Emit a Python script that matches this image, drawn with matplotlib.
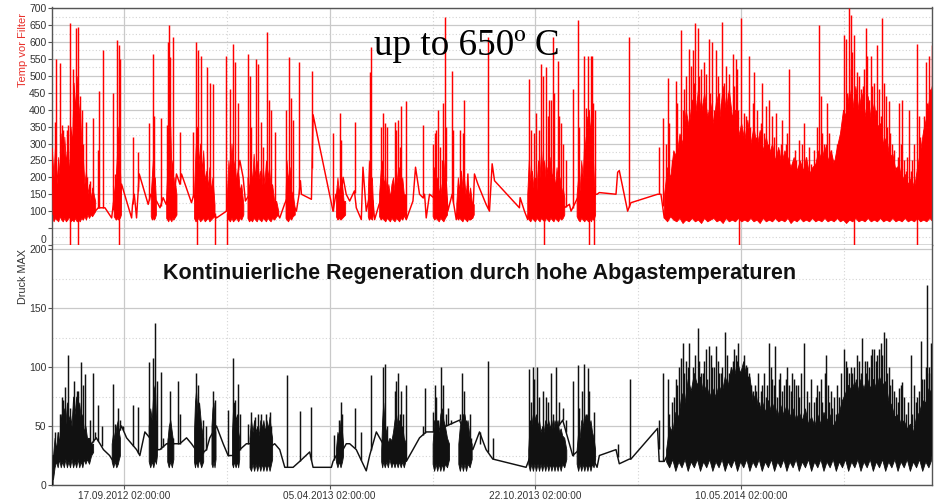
import numpy as np
import matplotlib
matplotlib.use('Agg')
import matplotlib.pyplot as plt
import matplotlib.dates as mdates
from matplotlib.ticker import FixedLocator

# ---------------- data (day offsets from 09.07.2012 02:00) ----------------
START = np.datetime64('2012-07-09T02:00')
x_ticks = ['2012-09-17T02:00', '2013-04-05T02:00', '2013-10-22T02:00', '2014-05-10T02:00']
x_minor = ['2012-12-26T02:00', '2013-07-14T02:00', '2014-01-30T02:00', '2014-08-18T02:00']
x_range_days = (0, 855.5)

# ---- Temp vor Filter ----
temp_trace = [(0, 285), (1.3, 90), (5, 150), (10, 100), (14, 160), (18, 90), (22, 140), (26, 100),
              (30, 150), (34, 120), (37, 160), (40, 110), (42, 100), (45, 110), (48, 110), (51.5, 110),
              (58, 80), (60, 130), (62, 90), (64, 200), (66, 110), (67.6, 180), (77.4, 80), (78.3, 120),
              (80, 150), (82.2, 80), (84.8, 210), (93.5, 120), (96, 150), (99.4, 130), (101.6, 130),
              (105, 110), (108, 140), (111, 120), (114, 160), (118, 120), (121, 210), (124.3, 180),
              (125.9, 210), (135.6, 125), (138, 150), (142, 100), (146, 150), (150, 120), (154, 100),
              (158, 90), (159.9, 80), (169.6, 100), (172, 150), (176, 120), (180, 200), (182.6, 250),
              (185.8, 200), (188, 130), (192, 150), (196, 120), (200, 140), (205, 130), (210, 150),
              (214, 120), (218.2, 100), (221.4, 80), (226, 120), (230, 150), (234, 120), (237.6, 100),
              (240.2, 150), (241.5, 190), (242.5, 150), (252.2, 135), (253.8, 385), (273.2, 100),
              (276, 150), (280, 120), (283, 200), (286, 150), (289.4, 130), (294, 160), (295.8, 110),
              (300.7, 75), (302.3, 230), (305.5, 100), (309, 150), (312, 130), (313.6, 75), (318, 120),
              (322, 150), (326, 110), (328.2, 140), (333, 120), (337, 150), (341.1, 100), (344.4, 75),
              (350.9, 130), (353.4, 230), (357.3, 150), (360.6, 140), (362.2, 150), (363.8, 80),
              (367, 150), (371, 140), (375, 160), (379, 120), (383, 200), (384.8, 100), (389, 150),
              (393, 75), (396, 150), (400, 160), (402.7, 100), (404.3, 210), (405.9, 75), (409.1, 80),
              (410.7, 210), (414, 180), (422, 120), (425.3, 100), (427.9, 240), (430.2, 190),
              (454.4, 110), (455.1, 140), (459.3, 100), (462.5, 75), (466, 150), (470, 120), (472.2, 80),
              (476, 150), (480, 130), (484, 160), (488, 130), (490.1, 120), (494, 150), (498, 110),
              (503, 120), (504.6, 100), (507.9, 120), (511, 140), (514.3, 130), (517, 110), (519.8, 75),
              (522, 150), (525.7, 130), (528.2, 150), (529.9, 150), (532.1, 155), (548.3, 150),
              (549.9, 215), (551.5, 220), (559.6, 100), (562.8, 125), (588.7, 150), (592, 150),
              (595.2, 80), (597, 100)]

temp_spikes = [(2.9, 365), (3.9, 550), (7.8, 538), (9.4, 355), (11, 340), (14.2, 340), (15.9, 355),
               (17.5, 655), (20.7, 520), (23.3, 640), (24.9, 645), (27.2, 440), (28.8, 400), (30.4, 300),
               (32.7, 365), (34.3, 200), (36.9, 190), (39.5, 375), (45, 280), (45.6, 455), (49.2, 575),
               (58.9, 450), (61.2, 210), (63.4, 605), (64.7, 590), (66, 550), (78.3, 320), (83.8, 275),
               (94.5, 360), (98.4, 565), (99.4, 380), (105.5, 375), (111.4, 355), (113, 600), (114, 650),
               (115.2, 555), (117.8, 615), (124.3, 335), (137.2, 335), (139.8, 600), (142.1, 575),
               (145.3, 560), (150.2, 525), (153.4, 480), (156.7, 475), (169.6, 560), (172.9, 460),
               (176.1, 595), (177.7, 540), (181, 420), (182.6, 250), (190.7, 565), (192.3, 500),
               (193.9, 350), (198.1, 550), (200.4, 535), (203, 365), (205.2, 290), (209.4, 630),
               (211, 430), (213.3, 400), (216.5, 335), (227.9, 400), (230.5, 555), (232.7, 435),
               (234.4, 370), (240.2, 540), (252.8, 515), (273.2, 330), (279.6, 390), (281.3, 310),
               (294.2, 365), (302.3, 230), (308.8, 510), (310.4, 585), (320.1, 350), (321.7, 390),
               (323.3, 360), (325.6, 350), (333, 365), (334.7, 340), (336.3, 370), (337.9, 290),
               (339.5, 410), (343.7, 425), (353.4, 230), (360.6, 355), (370.3, 300), (371.9, 330),
               (373.5, 340), (375.1, 400), (376.8, 290), (379.3, 250), (380.6, 420), (381.6, 675),
               (383.2, 350), (389.1, 515), (390.3, 340), (396.2, 340), (399.4, 330), (401, 430),
               (423.7, 615), (427.9, 240), (464.2, 490), (465.8, 340), (469, 330), (470.6, 390),
               (473.9, 340), (475.5, 535), (477.1, 500), (480.3, 525), (482, 380), (483.6, 430),
               (485.2, 430), (486.8, 615), (488.4, 450), (491.7, 545), (493.3, 380), (494.9, 360),
               (496.5, 300), (499.8, 250), (506.2, 460), (511.1, 665), (512.7, 350), (517.6, 560),
               (519.2, 405), (520.8, 560), (524, 560), (525, 560), (525.7, 420), (528.2, 400),
               (549.9, 215), (561.2, 615), (589.7, 290), (593.6, 375), (598.4, 495)]

temp_dense_spikes = [(606.5, 485), (611.4, 635), (613, 400), (616.2, 500), (619.5, 580), (621.1, 530),
                     (622.7, 575), (625.3, 655), (627.6, 640), (630.8, 520), (634, 540), (635.7, 505),
                     (638.9, 610), (642.1, 600), (645.4, 575), (648.6, 450), (651.8, 660), (655.1, 530),
                     (658.3, 505), (661.6, 565), (664.8, 550), (666.4, 520), (669.6, 670), (672.9, 390),
                     (674.5, 380), (677.7, 560), (681, 420), (682.6, 510), (685.8, 400), (689.1, 360),
                     (690.7, 480), (693.9, 410), (697.2, 430), (700.4, 380), (703.6, 390), (706.9, 280),
                     (710.1, 370), (713.4, 300), (716.6, 520), (719.8, 240), (723.1, 250), (726.3, 310),
                     (731.2, 360), (736, 290), (739.2, 200), (742.5, 240), (745.7, 650), (747.3, 440),
                     (750.6, 300), (753.8, 420), (755.4, 330), (758.7, 240), (761.9, 200), (765.1, 200),
                     (768.4, 350), (770, 620), (771.6, 610), (774.9, 700), (776.5, 680), (778.1, 570),
                     (779.7, 620), (783, 510), (786.2, 460), (789.4, 520), (791, 640), (792.7, 560),
                     (795.9, 560), (799.1, 480), (802.4, 590), (804, 460), (807.2, 670), (808.8, 480),
                     (810.5, 440), (813.7, 425), (817, 300), (820.2, 230), (823.4, 420), (826.6, 430),
                     (829.9, 220), (833.1, 400), (836.4, 250), (840.6, 595), (842.8, 380), (846.1, 250),
                     (849.3, 540), (852.5, 560), (855.8, 590),
                     (597, 300), (600, 360), (603, 250), (608, 420), (614, 460), (618, 350), (624, 480),
                     (629, 500), (633, 420), (637, 380), (640, 450), (644, 400), (647, 500), (650, 420),
                     (653, 480), (657, 450), (660, 380), (663, 470), (667, 400), (671, 330), (676, 300),
                     (679, 350), (684, 320), (688, 290), (692, 330), (696, 300), (699, 280), (702, 320),
                     (705, 260), (709, 300), (712, 250), (715, 330), (718, 220), (722, 280), (725, 230),
                     (729, 300), (733, 260), (738, 240), (741, 280), (744, 350), (749, 330), (752, 300),
                     (757, 280), (760, 250), (763, 300), (767, 330), (773, 450), (777, 520), (782, 450),
                     (785, 500), (788, 470), (794, 430), (797, 470), (801, 400), (806, 380), (812, 350),
                     (815, 330), (819, 280), (822, 260), (825, 300), (828, 250), (831, 260), (835, 220),
                     (838, 300), (844, 320), (848, 380), (851, 420), (854, 460), (857, 480)]

temp_drops = [17.5, 25.6, 65.4, 140.5, 158.3, 170.6, 478.7, 522.4, 527.3, 668, 779.7, 840.6]
temp_drop_top = 95

# dense bursts: (day, low, top)
temp_bursts = [
    [(0, 85, 280), (1.5, 70, 200), (3, 80, 300), (4.5, 75, 180), (6, 70, 260), (7.5, 85, 200), (9, 75, 330),
     (10.5, 70, 220), (12, 80, 320), (13.5, 70, 240), (15, 75, 300), (16.5, 85, 200), (18, 70, 350),
     (19.5, 75, 300), (21, 70, 480), (22.5, 80, 400), (24, 70, 500), (25.5, 75, 380), (27, 70, 420),
     (28.5, 80, 300), (30, 75, 260), (31.5, 85, 180), (33, 75, 220), (34.5, 90, 150), (36, 80, 180),
     (37.5, 90, 130), (39, 85, 170), (42, 100, 130)],
    [(60, 85, 150), (62, 75, 200), (63, 80, 260), (64, 75, 350), (65, 85, 200), (66, 80, 230), (67, 90, 150)],
    [(96, 85, 150), (97, 75, 200), (98, 80, 250), (99, 75, 170), (100, 80, 200), (101, 90, 130)],
    [(111, 80, 150), (112, 75, 220), (113, 70, 300), (114, 80, 240), (115, 75, 350), (116, 70, 220),
     (117, 80, 250), (118, 75, 160), (119, 80, 200), (121, 90, 150)],
    [(138, 80, 150), (139.5, 70, 280), (141, 75, 350), (142.5, 80, 240), (144, 70, 300), (145.5, 75, 220),
     (147, 80, 280), (148.5, 70, 190), (150, 75, 220), (151.5, 80, 170), (153, 70, 230), (154.5, 75, 160),
     (156, 80, 200), (158, 85, 120)],
    [(170, 80, 150), (171.5, 75, 250), (173, 70, 200), (174.5, 80, 300), (176, 70, 220), (177.5, 75, 250),
     (179, 80, 190), (181, 70, 220), (182.5, 80, 160), (184, 75, 180), (186, 90, 120)],
    [(190, 80, 200), (191.5, 70, 160), (193, 75, 250), (194.5, 70, 180), (196, 80, 270), (197.5, 75, 200),
     (199, 70, 250), (200.5, 80, 190), (202, 75, 220), (203.5, 70, 170), (205, 80, 230), (206.5, 75, 180),
     (208, 70, 250), (209.5, 80, 200), (211, 75, 230), (212.5, 70, 170), (214, 80, 180), (216, 75, 130),
     (218, 85, 130), (220, 90, 100)],
    [(227, 80, 150), (228, 75, 250), (229.5, 70, 190), (231, 80, 230), (232.5, 75, 160), (234, 85, 150),
     (236, 90, 110)],
    [(276, 85, 150), (277.5, 75, 200), (279, 80, 150), (280.5, 75, 200), (282, 80, 180), (283.5, 85, 130),
     (285, 90, 130)],
    [(307, 85, 150), (308, 75, 250), (309.5, 80, 180), (311, 75, 200), (312, 90, 120)],
    [(318, 85, 150), (319.5, 75, 220), (321, 80, 250), (322.5, 75, 180), (324, 70, 200), (325.5, 80, 150),
     (327, 75, 180), (328.5, 70, 140), (330, 80, 180), (331.5, 75, 200), (333, 70, 160), (334.5, 80, 220),
     (336, 75, 180), (337.5, 70, 230), (339, 80, 170), (340.5, 75, 200), (342, 85, 150), (344, 90, 150)],
    [(370, 85, 150), (371.5, 75, 230), (373, 80, 170), (374.5, 75, 200), (376, 70, 150), (377.5, 80, 180),
     (379, 75, 140), (380.5, 70, 250), (382, 80, 180), (384, 90, 130)],
    [(393, 85, 120), (394.5, 75, 200), (396, 80, 160), (397.5, 75, 220), (399, 70, 170), (400.5, 80, 200),
     (402, 75, 150), (403.5, 70, 180), (405, 80, 140), (406.5, 75, 170), (408, 80, 130), (410, 90, 120)],
    [(462, 85, 150), (463.5, 75, 250), (465, 70, 190), (466.5, 80, 220), (468, 75, 170), (469.5, 70, 200),
     (471, 80, 160), (472.5, 75, 250), (474, 70, 200), (475.5, 80, 280), (477, 75, 210), (478.5, 70, 250),
     (480, 80, 190), (481.5, 75, 230), (483, 70, 180), (484.5, 80, 260), (486, 75, 200), (487.5, 70, 220),
     (489, 80, 170), (490.5, 75, 230), (492, 70, 180), (493.5, 80, 200), (495, 75, 150), (496.5, 80, 170),
     (498, 90, 140)],
    [(510, 85, 150), (511.5, 75, 200), (513, 70, 160), (514.5, 80, 250), (516, 75, 200), (517.5, 70, 320),
     (519, 80, 270), (520, 75, 380), (521, 70, 300), (522, 80, 400), (523, 75, 330), (524, 70, 370),
     (525, 80, 300), (526, 75, 250), (527, 80, 180), (528, 90, 150)],
    [(595, 80, 150), (598, 70, 230), (601, 85, 200), (604, 75, 280), (607, 70, 260), (610, 80, 330),
     (613, 65, 300), (616, 75, 400), (619, 70, 350), (622, 80, 430), (625, 70, 380), (628, 75, 460),
     (631, 65, 390), (634, 80, 450), (637, 70, 380), (640, 75, 420), (643, 80, 360), (646, 70, 440),
     (649, 75, 380), (652, 65, 470), (655, 80, 400), (658, 70, 460), (661, 75, 380), (664, 70, 400),
     (667, 80, 320), (670, 70, 360), (673, 75, 310), (676, 70, 370), (679, 80, 300), (682, 70, 350),
     (685, 75, 290), (688, 65, 340), (691, 80, 280), (694, 70, 320), (697, 75, 270), (700, 70, 300),
     (703, 80, 250), (706, 70, 290), (709, 75, 240), (712, 70, 280), (715, 80, 260), (718, 65, 230),
     (721, 75, 260), (724, 70, 220), (727, 80, 250), (730, 70, 220), (733, 75, 260), (736, 70, 210),
     (739, 80, 230), (742, 70, 240), (745, 75, 280), (748, 70, 250), (751, 80, 290), (754, 70, 250),
     (757, 75, 280), (760, 70, 240), (763, 80, 290), (766, 70, 330), (769, 75, 400), (772, 65, 380),
     (775, 75, 460), (778, 70, 400), (781, 80, 470), (784, 70, 400), (787, 75, 450), (790, 70, 380),
     (793, 80, 440), (796, 70, 370), (799, 75, 420), (802, 70, 350), (805, 80, 360), (808, 70, 300),
     (811, 75, 320), (814, 70, 260), (817, 80, 270), (820, 70, 220), (823, 75, 240), (826, 70, 190),
     (829, 80, 210), (832, 70, 180), (835, 75, 200), (838, 70, 170), (841, 80, 230), (844, 70, 280),
     (847, 75, 340), (850, 70, 380), (853, 80, 440), (856, 70, 480), (858, 75, 500)],
]

# ---- Druck MAX ----
druck_trace = [(0, 0), (0.8, 0), (1.3, 25), (3, 20), (5, 28), (8, 22), (11, 30), (14, 25), (17, 30),
               (20, 25), (23, 30), (26, 25), (29, 30), (32, 28), (35, 28), (38.5, 35), (43, 40),
               (46.6, 35), (50, 30), (56, 25), (59.5, 20), (62.8, 40), (67.6, 50), (72.5, 40),
               (82.2, 30), (85.4, 25), (90.3, 45), (95, 40), (98.4, 30), (104.9, 30), (111.4, 35),
               (117.8, 35), (124.3, 35), (130.8, 40), (135.6, 35), (143.7, 25), (150.2, 30),
               (153.4, 40), (159.9, 50), (166.4, 35), (171.2, 25), (176.1, 25), (182.6, 30), (189, 35),
               (195.5, 35), (202, 32), (208.5, 30), (216.5, 35), (221.4, 30), (226.3, 15), (231.2, 15),
               (234.4, 15), (240.8, 20), (250.5, 28), (253.8, 15), (271.6, 15), (273.2, 20),
               (276.4, 25), (282.9, 30), (286.1, 35), (289.4, 35), (295.8, 30), (305.5, 12),
               (308.8, 25), (315.3, 45), (318.5, 40), (325, 30), (331.4, 35), (337.9, 30), (344.4, 20),
               (350.9, 30), (357.3, 40), (363.8, 45), (370.3, 45), (383.2, 50), (396.2, 55),
               (402.7, 40), (409.1, 30), (415.6, 45), (422, 30), (428.5, 22), (460.9, 15), (467.4, 30),
               (480.3, 35), (496.5, 55), (506.2, 25), (519.2, 35), (529.9, 15), (532.1, 25),
               (548.3, 30), (551.5, 18), (561.3, 22), (562.8, 22), (588.7, 48), (590.3, 20),
               (595.2, 20), (598, 25)]

druck_spikes = [(2.9, 45), (6.1, 45), (7.8, 60), (9.4, 75), (11, 72), (12.6, 83), (15.2, 110), (17.5, 65),
                (21.4, 88), (24, 80), (25.6, 80), (28.2, 104), (29.8, 85), (32.1, 94), (35.3, 40),
                (36.9, 55), (39.5, 95), (41.8, 45), (45, 68), (48.2, 50), (58.9, 86), (61.2, 52),
                (64.4, 65), (66, 55), (69.3, 50), (79, 68), (83.8, 66), (94.5, 104), (97.8, 108),
                (100, 137), (101.6, 88), (105.8, 96), (108.1, 40), (113, 40), (115.2, 80), (117.8, 40),
                (122.7, 88), (124.3, 60), (139.8, 95), (142.1, 85), (147, 55), (149.5, 50), (156.7, 80),
                (158.3, 72), (171.2, 64), (176.1, 108), (177.7, 72), (181, 86), (182.6, 60), (190.7, 52),
                (193.9, 62), (197.1, 58), (200.4, 60), (203.6, 60), (205.2, 52), (208.5, 60),
                (211.7, 62), (213.3, 50), (228.5, 93), (240.8, 63), (252.2, 66), (273.8, 42), (279, 55),
                (281.3, 70), (282.2, 60), (294.2, 65), (300.7, 45), (310.4, 93), (315.3, 45),
                (321.7, 100), (323.3, 103), (325.6, 50), (333, 80), (334.7, 88), (336.3, 95),
                (337.9, 60), (339.5, 80), (341.1, 60), (343.7, 85), (360.6, 50), (362.2, 82), (367, 45),
                (370.3, 62), (371.9, 85), (373.5, 75), (375.1, 55), (378.4, 100), (380.6, 85),
                (382.6, 60), (384.8, 65), (388.1, 55), (396.2, 60), (398.8, 95), (400.1, 80),
                (402.7, 55), (405.9, 60), (407.5, 40), (415.6, 35), (423.7, 105), (428.5, 40),
                (463.5, 98), (465.8, 70), (467.4, 100), (469, 90), (471.3, 100), (473.9, 75), (477.1, 80),
                (480.3, 75), (482, 70), (485.2, 95), (486.8, 60), (490.1, 100), (493.3, 70), (496.5, 65),
                (499.8, 55), (506.2, 88), (511.1, 102), (512.7, 65), (515.3, 80), (517.6, 103),
                (519.2, 60), (520.8, 99), (522.4, 80), (527.3, 62), (549.9, 35), (562.2, 90),
                (589.7, 55), (593.6, 95), (598.4, 90)]

druck_dense_spikes = [(604.9, 75), (606.5, 90), (609.8, 100), (611.4, 108), (613, 120), (616.2, 105),
                      (619.5, 120), (622.7, 100), (627.6, 133), (629.2, 105), (632.4, 95), (635.7, 115),
                      (638.9, 118), (640.5, 110), (642.1, 100), (645.4, 118), (648.6, 95), (651.8, 100),
                      (654.4, 130), (658.3, 95), (661.6, 105), (664.8, 110), (668, 80), (671.3, 100),
                      (674.5, 102), (676.1, 100), (679.4, 85), (681, 80), (684.2, 80), (687.5, 70),
                      (690.7, 85), (693.9, 75), (697.2, 120), (700.4, 90), (703, 118), (705.3, 75),
                      (706.9, 90), (710.1, 80), (713.4, 90), (716.6, 85), (719.8, 95), (723.1, 85),
                      (726.3, 75), (731.2, 120), (736, 70), (739.2, 55), (742.5, 75), (745.7, 80),
                      (749, 70), (752.2, 110), (755.4, 70), (758.7, 65), (761.9, 60), (765.1, 75),
                      (770, 115), (773.2, 100), (776.5, 100), (778.1, 95), (781.3, 90), (784.6, 105),
                      (787.8, 125), (791, 95), (792.7, 105), (795.9, 110), (799.1, 115), (802.4, 110),
                      (805.6, 120), (808.8, 130), (810.5, 125), (813.7, 100), (817, 90), (820.2, 75),
                      (823.4, 82), (826.6, 87), (829.9, 60), (834.7, 110), (836.4, 60), (839.6, 70),
                      (842.8, 80), (844.4, 122), (847.7, 90), (849.3, 100), (850.9, 170), (852.5, 100),
                      (854.2, 120), (857.4, 110),
                      (600, 60), (603, 70), (608, 85), (614, 95), (618, 100), (625, 110), (631, 95),
                      (634, 105), (637, 90), (644, 100), (647, 105), (650, 95), (656, 110), (660, 100),
                      (663, 115), (667, 120), (673, 110), (678, 95), (683, 85), (686, 95), (689, 80),
                      (692, 95), (695, 85), (699, 100), (702, 85), (708, 95), (712, 85), (715, 100),
                      (718, 80), (721, 90), (725, 85), (728, 95), (734, 80), (738, 90), (741, 70), (744, 85),
                      (748, 90), (751, 95), (754, 85), (757, 80), (760, 75), (763, 85), (767, 95),
                      (772, 105), (775, 95), (780, 100), (783, 110), (786, 95), (790, 105), (794, 100),
                      (797, 115), (801, 105), (804, 115), (807, 110), (812, 95), (815, 85), (819, 80),
                      (822, 70), (825, 85), (828, 75), (832, 70), (838, 85), (841, 75), (846, 90), (853, 95),
                      (856, 105)]

druck_bursts = [
    [(1, 5, 25), (2.5, 15, 40), (4, 20, 30), (5.5, 15, 45), (7, 22, 35), (8.5, 15, 60), (10, 20, 45),
     (11.5, 15, 65), (13, 22, 50), (14.5, 15, 70), (16, 20, 55), (17.5, 15, 60), (19, 22, 50), (20.5, 15, 75),
     (22, 20, 60), (23.5, 15, 75), (25, 22, 60), (26.5, 15, 70), (28, 20, 55), (29.5, 15, 60), (31, 22, 45),
     (32.5, 18, 50), (34, 22, 40), (36, 18, 40), (38, 25, 35), (40, 28, 35)],
    [(58, 20, 35), (59.5, 15, 45), (61, 20, 38), (62.5, 15, 50), (64, 18, 55), (65, 22, 45), (66, 25, 40)],
    [(94, 20, 50), (95.5, 15, 65), (97, 20, 55), (98.5, 15, 80), (100, 22, 85), (101, 18, 60), (102, 25, 50)],
    [(112, 20, 35), (113.5, 15, 50), (115, 20, 55), (116.5, 15, 45), (118, 22, 35)],
    [(138, 20, 45), (139, 15, 70), (140, 20, 80), (141.5, 15, 60), (143, 22, 70), (145, 15, 50), (147, 20, 40)],
    [(155, 18, 50), (156, 15, 65), (157, 20, 70), (158, 15, 55), (159, 22, 45)],
    [(175, 18, 45), (176, 15, 65), (177, 20, 70), (178.5, 15, 55), (180, 20, 60), (181, 15, 45), (182, 22, 40)],
    [(192, 15, 40), (193.5, 12, 55), (195, 18, 45), (196.5, 12, 55), (198, 18, 45), (199.5, 12, 50),
     (201, 18, 42), (202.5, 12, 55), (204, 18, 48), (205.5, 12, 55), (207, 18, 45), (208.5, 12, 55),
     (210, 18, 48), (211.5, 12, 58), (213, 18, 45), (214, 22, 40)],
    [(276, 20, 30), (277.5, 15, 45), (279, 20, 40), (280.5, 15, 55), (282, 20, 45), (283, 25, 35)],
    [(320, 20, 30), (321, 15, 55), (322, 20, 70), (323.5, 15, 50), (325, 20, 45), (326.5, 15, 35),
     (328, 22, 40), (330, 15, 38), (331.5, 20, 45), (333, 15, 55), (334.5, 20, 60), (336, 15, 50),
     (337.5, 20, 55), (339, 15, 48), (340.5, 20, 50), (342, 15, 40), (344, 22, 35)],
    [(370, 18, 35), (371.5, 12, 55), (373, 18, 50), (374.5, 12, 55), (376, 18, 45), (377.5, 12, 60),
     (379, 18, 65), (380.5, 12, 55), (382, 18, 50), (384, 15, 40), (386, 22, 35)],
    [(395, 18, 35), (396.5, 12, 50), (398, 18, 55), (399.5, 12, 60), (401, 18, 60), (402.5, 12, 50),
     (404, 18, 55), (406, 15, 40), (408, 22, 35)],
    [(463, 18, 30), (464.5, 12, 55), (466, 18, 50), (467.5, 12, 60), (469, 18, 55), (470.5, 12, 60),
     (472, 18, 50), (473.5, 12, 55), (475, 18, 45), (476.5, 12, 50), (478, 18, 45), (479.5, 12, 55),
     (481, 18, 50), (482.5, 12, 55), (484, 18, 48), (485.5, 12, 55), (487, 18, 45), (488.5, 12, 55),
     (490, 18, 50), (491.5, 12, 55), (493, 18, 45), (494.5, 12, 48), (496, 18, 42), (498, 15, 40),
     (500, 22, 30)],
    [(510, 18, 30), (511.5, 12, 45), (513, 18, 40), (514.5, 12, 55), (516, 18, 50), (517.5, 12, 60),
     (519, 18, 55), (520.5, 12, 60), (522, 18, 50), (523.5, 12, 55), (525, 18, 45), (526.5, 15, 40),
     (528, 22, 30)],
    [(597, 20, 30), (600, 15, 50), (603, 22, 45), (606, 12, 62), (609, 20, 58), (612, 15, 78), (615, 22, 70),
     (618, 12, 90), (621, 20, 80), (624, 15, 95), (627, 22, 85), (630, 12, 92), (633, 20, 78), (636, 15, 85),
     (639, 22, 75), (642, 12, 82), (645, 20, 75), (648, 15, 85), (651, 22, 78), (654, 12, 92), (657, 20, 85),
     (660, 15, 100), (663, 22, 92), (666, 12, 105), (669, 20, 95), (672, 15, 105), (675, 22, 92),
     (678, 12, 92), (681, 20, 72), (684, 15, 78), (687, 22, 62), (690, 12, 72), (693, 20, 62), (696, 15, 72),
     (699, 22, 62), (702, 12, 70), (705, 20, 58), (708, 15, 68), (711, 22, 60), (714, 12, 68), (717, 20, 58),
     (720, 15, 65), (723, 22, 55), (726, 12, 62), (729, 20, 55), (732, 15, 65), (735, 22, 52), (738, 12, 58),
     (741, 20, 50), (744, 15, 60), (747, 22, 52), (750, 12, 62), (753, 20, 55), (756, 15, 60), (759, 22, 50),
     (762, 12, 55), (765, 20, 62), (768, 15, 72), (771, 22, 78), (774, 12, 85), (777, 20, 80), (780, 15, 88),
     (783, 22, 80), (786, 12, 90), (789, 20, 82), (792, 15, 92), (795, 22, 82), (798, 12, 90), (801, 20, 82),
     (804, 15, 92), (807, 22, 85), (810, 12, 88), (813, 20, 72), (816, 15, 68), (819, 22, 58), (822, 12, 60),
     (825, 20, 52), (828, 15, 55), (831, 22, 48), (834, 12, 52), (837, 20, 45), (840, 15, 58), (843, 22, 62),
     (846, 12, 72), (849, 20, 70), (852, 15, 82), (855, 22, 78), (858, 15, 88)],
]

temp_yticks = [0, 50, 100, 150, 200, 250, 300, 350, 400, 450, 500, 550, 600, 650, 700]
temp_yticklabels = ['0', '', '100', '150', '200', '250', '300', '350', '400', '450', '500', '550',
                    '600', '650', '700']
druck_yticks = [0, 50, 100, 150, 200]

# ---------------- drawing ----------------
BASE = mdates.date2num(START)


def to_x(days):
    return BASE + np.asarray(days, dtype=float)


def cols(rows):
    a = np.array(rows, dtype=float)
    return [a[:, i] for i in range(a.shape[1])]


plt.rcParams['font.family'] = ['Liberation Sans', 'DejaVu Sans']

fig = plt.figure(figsize=(9.36, 5.03), dpi=100)
fig.patch.set_facecolor('white')

W, H = 936.0, 503.0
ax1 = fig.add_axes([52 / W, 1 - 245 / H, 880 / W, 237.5 / H])
ax2 = fig.add_axes([52 / W, 1 - 485 / H, 880 / W, 240 / H])

RED = '#ff0000'
BLK = '#111111'


def draw(ax, trace, spikes, dense, bursts, color, lw):
    for b in bursts:
        d, lo, hi = cols(b)
        ax.fill_between(to_x(d), lo, hi, color=color, lw=0.6, edgecolor=color, zorder=2)
    td, tv = cols(trace)
    ax.plot(to_x(td), tv, color=color, lw=lw, zorder=3)
    for group in (spikes, dense):
        d, v = cols(group)
        base = np.interp(d, td, tv)      # each spike rises from the trace level
        ax.vlines(to_x(d), base, v, color=color, lw=lw, zorder=3)


draw(ax1, temp_trace, temp_spikes, temp_dense_spikes, temp_bursts, RED, 1.05)
ax1.vlines(to_x(temp_drops), 0, temp_drop_top, color=RED, lw=1.05, zorder=3)
draw(ax2, druck_trace, druck_spikes, druck_dense_spikes, druck_bursts, BLK, 1.05)

xmaj = [mdates.date2num(np.datetime64(t)) for t in x_ticks]
xmin = [mdates.date2num(np.datetime64(t)) for t in x_minor]

for ax in (ax1, ax2):
    ax.set_xlim(to_x(x_range_days[0]), to_x(x_range_days[1]))
    ax.xaxis.set_major_locator(FixedLocator(xmaj))
    ax.xaxis.set_minor_locator(FixedLocator(xmin))
    ax.set_axisbelow(True)
    ax.grid(True, which='major', color='#c9c9c9', lw=0.9, ls='-')
    ax.grid(True, which='minor', color='#d4d4d4', lw=0.8, ls=(0, (1, 2)))
    for s in ax.spines.values():
        s.set_color('#555555')
        s.set_linewidth(1.0)
    ax.tick_params(which='minor', length=0)
    ax.tick_params(axis='y', which='major', length=3, width=0.8, color='#555555',
                   labelsize=7.5, labelcolor='#333333', pad=1)

ax1.set_ylim(0, 702)
ax1.set_yticks(temp_yticks, labels=temp_yticklabels)
ax1.yaxis.set_minor_locator(FixedLocator([25 + 50 * i for i in range(14)]))
ax1.tick_params(axis='x', which='both', length=0, labelbottom=False)
for lbl in ax1.get_yticklabels():
    if lbl.get_text() == '0':
        lbl.set_va('bottom')

ax2.set_ylim(0, 203.5)
ax2.set_yticks(druck_yticks)
ax2.yaxis.set_minor_locator(FixedLocator([25, 75, 125, 175]))
ax2.xaxis.set_major_formatter(mdates.DateFormatter('%d.%m.%Y %H:%M:%S'))
ax2.tick_params(axis='x', which='major', length=3, width=0.8, color='#555555',
                labelsize=7.2, labelcolor='#333333', pad=1.5)
ax2.spines['top'].set_visible(False)

fig.text(23 / W, 1 - 50 / H, 'Temp vor Filter', rotation=90, color='#e8302a', fontsize=8,
         ha='center', va='center')
fig.text(23 / W, 1 - 276 / H, 'Druck MAX', rotation=90, color='#333333', fontsize=7.8,
         ha='center', va='center')

fig.text(467 / W, 1 - 55 / H, 'up to 650º C', family=['Liberation Serif', 'DejaVu Serif'],
         fontsize=26.7, color='black', ha='center', va='baseline', zorder=10)
fig.text(480 / W, 1 - 273 / H, 'Kontinuierliche Regeneration durch hohe Abgastemperaturen',
         fontsize=15.5, fontweight='bold', color='#111111', ha='center', va='center', zorder=10)

fig.savefig('out.png', dpi=100, facecolor='white')
